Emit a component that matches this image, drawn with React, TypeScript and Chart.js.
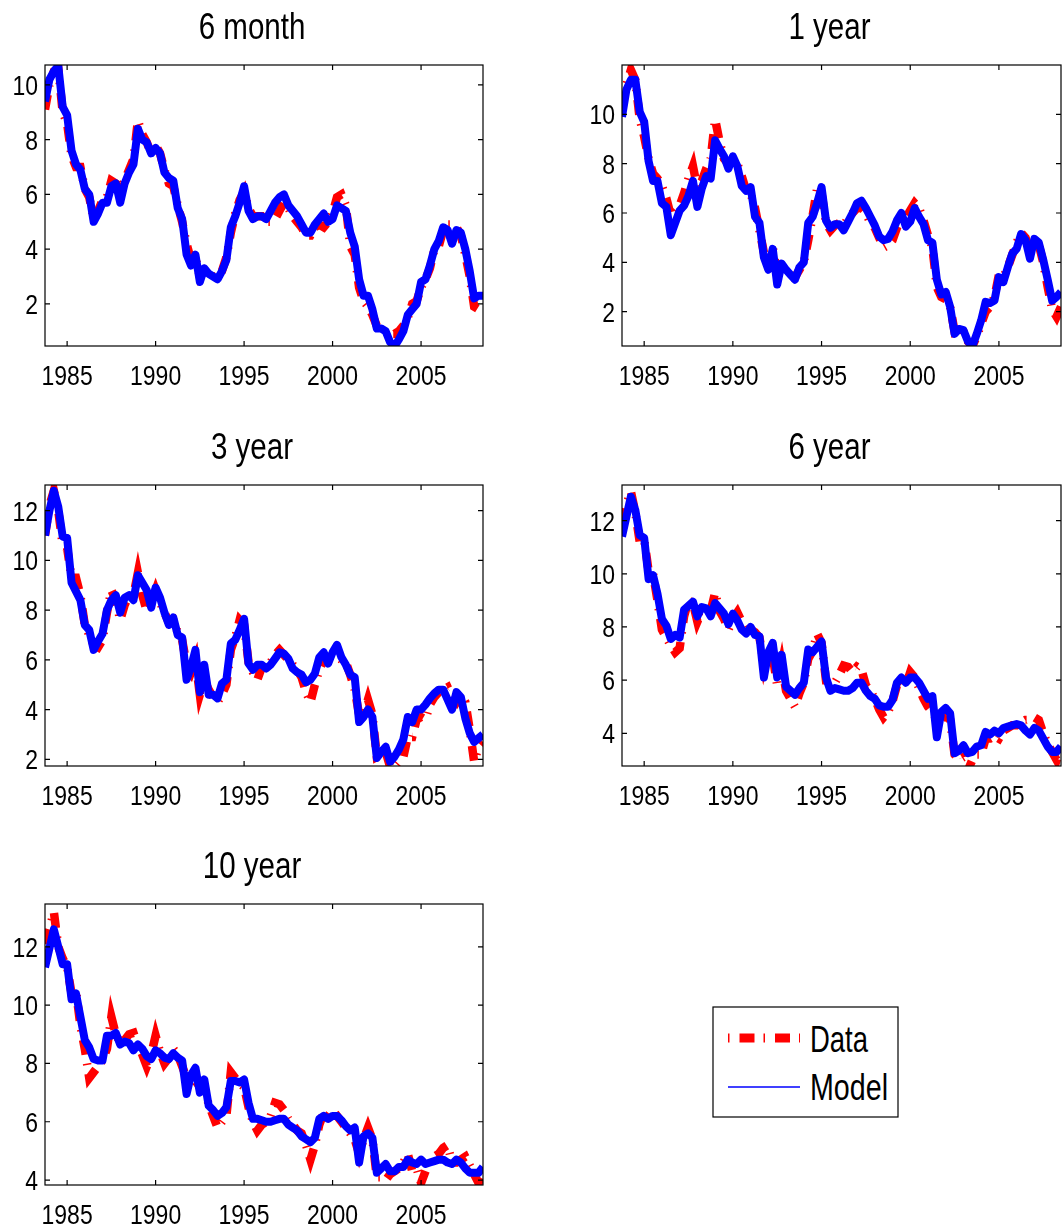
import { useEffect, useRef } from "react"
import { Chart, registerables } from "chart.js"
import type { Plugin } from "chart.js"

Chart.register(...registerables)

// no narrow face installed, so text is squeezed horizontally to look like Helvetica Narrow
const FONT = "'Liberation Sans', Arial, sans-serif"
const SQUEEZE = 0.82

// quarterly observations, 1983Q4 .. 2008Q2
const quarters: number[] = Array.from({ length: 100 }, (_, i) => 1983.75 + i * 0.25)
const yearTicks = [1985, 1990, 1995, 2000, 2005]

const model6m = [
  9.4, 10.2, 10.5, 10.7, 9.2, 8.9, 7.6, 7.1, 6.9, 6.2,
  6.0, 5.0, 5.3, 5.7, 5.7, 6.3, 6.4, 5.7, 6.4, 6.8,
  7.1, 8.4, 8.0, 7.9, 7.5, 7.7, 7.5, 6.8, 6.6, 6.5,
  5.5, 5.1, 3.8, 3.4, 3.8, 2.8, 3.3, 3.1, 3.0, 2.9,
  3.2, 3.6, 4.8, 5.2, 5.7, 6.3, 5.4, 5.1, 5.2, 5.2,
  5.1, 5.4, 5.7, 5.9, 6.0, 5.6, 5.4, 5.2, 4.9, 4.6,
  4.6, 4.9, 5.1, 5.3, 5.0, 5.1, 5.6, 5.5, 5.4, 4.6,
  4.1, 2.9, 2.3, 2.3, 1.8, 1.1, 1.1, 1.0, 0.6, 0.45,
  0.7, 1.0, 1.6, 1.8, 2.0, 2.8, 2.9, 3.4, 4.0, 4.3,
  4.8, 4.7, 4.2, 4.7, 4.6, 4.0, 3.2, 2.2, 2.3, 2.3
]
const data6m = [
  9.1, 10.0, 10.5, 10.6, 9.0, 8.6, 7.4, 7.0, 7.0, 6.2,
  5.9, 5.1, 5.4, 5.8, 5.9, 6.5, 6.4, 6.2, 6.5, 6.9,
  7.3, 8.7, 8.2, 7.9, 7.5, 7.8, 7.5, 6.9, 6.4, 6.3,
  5.6, 5.0, 4.2, 3.6, 3.7, 3.0, 3.2, 3.0, 3.0, 3.0,
  3.2, 3.7, 4.6, 5.3, 5.8, 6.1, 5.5, 5.2, 5.2, 5.2,
  5.0, 5.0, 5.1, 5.4, 5.7, 5.5, 5.2, 5.0, 4.8, 4.5,
  4.5, 4.8, 4.9, 4.8, 5.0, 5.3, 5.9, 6.0, 5.6, 4.1,
  3.8, 2.6, 2.1, 1.9, 1.6, 1.2, 1.0, 1.0, 0.9, 0.9,
  1.0, 1.2, 1.5, 2.0, 2.1, 2.6, 2.9, 3.3, 4.0, 4.1,
  4.7, 4.9, 4.9, 4.8, 4.5, 3.8, 3.0, 1.9, 1.8, 1.8
]

const model1y = [
  9.9, 11.0, 11.4, 11.4, 10.1, 9.7, 8.1, 7.3, 7.3, 6.4,
  6.25, 5.1, 5.6, 6.1, 6.3, 6.7, 7.3, 6.25, 7.0, 7.5,
  7.4, 8.95, 8.6, 8.3, 7.8, 8.3, 7.9, 7.1, 6.9, 7.05,
  5.85, 5.6, 4.2, 3.7, 4.55, 3.1, 3.95, 3.7, 3.5, 3.3,
  3.8, 4.0, 5.6, 5.85, 6.4, 7.05, 5.7, 5.4, 5.55, 5.55,
  5.3, 5.65, 6.0, 6.4, 6.5, 6.2, 5.85, 5.5, 5.05, 4.9,
  4.95, 5.25, 5.7, 6.0, 5.45, 5.65, 6.2, 5.85, 5.55, 4.9,
  4.8, 3.3, 2.7, 2.8, 2.2, 1.1, 1.3, 1.25, 0.8, 0.6,
  1.1, 1.65, 2.4, 2.35, 2.45, 3.4, 3.2, 3.8, 4.35, 4.55,
  5.15, 4.9, 4.15, 4.95, 4.8, 4.1, 3.3, 2.45, 2.6, 2.8
]
const data1y = [
  10.3, 11.2, 11.8, 11.4, 9.8, 9.1, 8.2, 7.6, 7.4, 7.1,
  6.6, 5.9, 6.1, 6.3, 6.8, 7.4, 7.9, 7.0, 7.3, 7.8,
  8.2, 9.8, 8.9, 8.2, 8.0, 8.2, 8.0, 7.5, 6.9, 6.8,
  6.2, 5.3, 4.4, 4.5, 4.6, 3.5, 3.7, 3.5, 3.4, 3.4,
  3.7, 4.0, 4.9, 5.9, 7.0, 6.8, 5.6, 5.3, 5.5, 5.6,
  5.5, 5.8, 6.0, 6.2, 6.2, 6.0, 5.6, 5.4, 5.0, 4.6,
  4.7, 4.9, 5.4, 5.9, 5.8, 6.1, 6.4, 6.2, 5.7, 5.1,
  4.6, 3.0, 2.6, 2.5, 2.2, 1.2, 1.3, 1.2, 0.8, 0.6,
  1.0, 1.5, 2.0, 2.2, 2.6, 3.5, 3.4, 3.8, 4.3, 4.8,
  5.2, 5.0, 4.5, 4.8, 4.7, 4.0, 3.0, 2.1, 1.8, 2.2
]

const model3y = [
  11.0, 12.0, 12.8, 12.15, 10.95, 10.9, 9.1, 8.75, 8.4, 7.4,
  7.2, 6.4, 6.75, 7.05, 8.0, 8.4, 8.6, 7.9, 8.5, 8.6,
  8.4, 9.4, 9.1, 8.8, 8.1, 8.9, 8.5, 7.9, 7.4, 7.7,
  7.0, 6.9, 5.2, 5.7, 6.4, 4.7, 5.8, 4.6, 4.6, 4.45,
  5.05, 5.2, 6.65, 6.8, 7.2, 7.65, 5.85, 5.6, 5.8, 5.8,
  5.65, 5.8, 6.05, 6.3, 6.25, 6.05, 5.65, 5.5, 5.4, 5.1,
  5.2, 5.45, 6.1, 6.3, 5.85, 6.3, 6.6, 6.1, 5.8, 5.4,
  5.3, 3.5, 3.7, 4.0, 3.7, 2.05, 2.3, 2.5, 1.9, 2.1,
  2.4, 2.8, 3.7, 3.5, 4.0, 4.0, 4.2, 4.45, 4.65, 4.8,
  4.8, 4.4, 4.0, 4.7, 4.5, 3.65, 3.05, 2.7, 2.85, 3.0
]
const data3y = [
  11.0, 12.2, 12.8, 12.0, 10.6, 10.5, 9.3, 9.3, 8.6, 7.4,
  7.0, 6.6, 6.5, 6.8, 7.9, 8.8, 8.4, 7.6, 8.2, 8.6,
  8.6, 9.5, 8.6, 7.95, 8.3, 8.8, 8.3, 7.9, 7.5, 7.6,
  7.1, 6.8, 5.8, 5.5, 6.0, 4.6, 5.2, 4.8, 4.5, 4.3,
  4.6, 5.0, 6.4, 6.9, 7.6, 7.4, 5.9, 5.5, 5.2, 5.7,
  5.9, 5.9, 6.2, 6.4, 6.2, 6.0, 5.8, 5.6, 5.3, 4.7,
  4.3, 5.0, 5.6, 6.0, 6.0, 6.0, 6.1, 6.0, 5.9, 5.4,
  4.8, 3.8, 3.8, 4.4, 3.8, 2.1, 2.2, 2.3, 1.7, 1.7,
  1.9, 2.1, 2.9, 2.9, 3.6, 3.7, 3.6, 4.2, 4.5, 4.7,
  4.8, 4.9, 4.5, 4.3, 4.6, 4.3, 3.2, 1.9, 2.5, 2.7
]

const model6y = [
  11.4, 12.15, 12.9, 12.4, 11.45, 11.35, 9.8, 9.95, 9.25, 8.3,
  8.05, 7.55, 7.7, 7.6, 8.65, 8.8, 8.95, 8.4, 8.75, 8.7,
  8.4, 8.9, 8.7, 8.5, 8.1, 8.5, 8.25, 7.9, 7.75, 8.0,
  7.7, 7.65, 6.1, 7.05, 7.4, 6.1, 6.95, 5.75, 5.6, 5.45,
  5.7, 5.9, 7.15, 7.05, 7.25, 7.45, 6.1, 5.6, 5.7, 5.65,
  5.6, 5.6, 5.7, 5.9, 5.9, 5.6, 5.4, 5.3, 5.05, 5.0,
  5.0, 5.25, 5.9, 6.1, 5.9, 6.1, 6.1, 5.9, 5.6, 5.3,
  5.4, 3.85, 4.8, 4.95, 4.75, 3.25, 3.35, 3.55, 3.25, 3.3,
  3.5, 3.55, 4.05, 3.95, 4.1, 4.0, 4.2, 4.25, 4.3, 4.35,
  4.3, 4.1, 3.95, 4.2, 4.1, 3.8, 3.5, 3.3, 3.3, 3.5
]
const data6y = [
  11.9, 12.6, 13.1, 12.3, 11.2, 11.3, 10.1, 10.0, 9.0, 7.9,
  7.6, 7.3, 7.05, 7.2, 8.4, 9.0, 8.9, 8.2, 8.6, 8.6,
  8.6, 9.3, 8.6, 8.3, 7.9, 8.3, 8.55, 8.2, 7.9, 7.9,
  7.8, 7.6, 6.6, 7.3, 6.9, 5.8, 6.6, 5.6, 5.3, 5.0,
  5.5, 5.9, 6.8, 7.1, 7.75, 7.4, 6.0, 6.0, 5.9, 6.2,
  6.55, 6.5, 6.3, 6.5, 6.4, 5.8, 5.6, 5.3, 4.9, 4.6,
  4.8, 5.2, 5.8, 6.0, 5.8, 6.3, 6.1, 5.7, 5.3, 5.0,
  4.8, 4.5, 4.5, 4.7, 4.5, 3.2, 3.0, 3.1, 2.6, 3.0,
  3.2, 3.2, 3.8, 3.8, 3.9, 3.8, 4.1, 4.2, 4.3, 4.3,
  4.4, 4.5, 4.5, 4.6, 4.5, 4.0, 3.6, 3.3, 3.0, 3.6
]

const model10y = [
  11.3, 11.95, 12.6, 12.0, 11.4, 11.4, 10.2, 10.4, 9.6, 8.8,
  8.55, 8.15, 8.1, 8.1, 8.95, 8.95, 9.05, 8.65, 8.75, 8.7,
  8.45, 8.65, 8.5, 8.25, 8.15, 8.45, 8.35, 8.2, 8.15, 8.35,
  8.2, 8.1, 6.95, 7.6, 7.85, 7.0, 7.45, 6.55, 6.4, 6.2,
  6.3, 6.5, 7.4, 7.4, 7.35, 7.45, 6.65, 6.1, 6.1, 6.05,
  6.0, 6.0, 6.05, 6.1, 6.1, 5.9, 5.8, 5.7, 5.5, 5.4,
  5.3, 5.45, 6.1, 6.2, 6.1, 6.2, 6.2, 6.05, 5.85, 5.7,
  5.8, 4.6, 5.5, 5.6, 5.45, 4.25, 4.4, 4.55, 4.3, 4.3,
  4.45, 4.45, 4.7, 4.6, 4.55, 4.7, 4.55, 4.6, 4.65, 4.7,
  4.7, 4.6, 4.55, 4.7, 4.6, 4.4, 4.25, 4.25, 4.25, 4.45
]
const data10y = [
  12.1, 12.6, 13.2, 12.0, 11.6, 11.3, 10.4, 10.5, 9.3, 8.5,
  7.5, 7.7, 7.9, 8.1, 8.5, 9.6, 9.0, 8.7, 8.8, 9.0,
  9.05, 8.6, 8.3, 7.9, 8.3, 8.95, 8.4, 8.0, 8.2, 8.5,
  8.3, 7.9, 7.5, 7.6, 7.4, 7.2, 7.1, 6.6, 6.2, 5.8,
  6.0, 6.2, 7.7, 7.5, 7.3, 7.2, 6.5, 6.0, 5.7, 5.9,
  6.0, 6.2, 6.65, 6.6, 6.4, 6.1, 5.9, 5.7, 5.6, 5.2,
  4.7, 5.2, 5.9, 6.3, 6.2, 6.4, 6.2, 6.0, 5.8, 5.6,
  5.4, 4.9, 5.4, 5.8, 5.4, 4.1, 4.1, 4.0, 4.2, 4.3,
  4.4, 4.6, 4.9, 4.3, 4.4, 3.9, 4.3, 4.7, 4.8, 4.9,
  5.1, 5.2, 4.6, 4.6, 4.7, 4.8, 4.5, 4.2, 3.9, 4.3
]

type PanelSpec = {
  title: string
  model: number[]
  data: number[]
  yRange: [number, number]
  yTicks: number[]
  left: number
  top: number
  width: number
}

const PLOT_H = 281
const AXIS_W = 45
const TITLE_H = 60
const XAXIS_H = 50

const panels: PanelSpec[] = [
  { title: "6 month", model: model6m, data: data6m, yRange: [0.46, 10.73], yTicks: [2, 4, 6, 8, 10], left: 45, top: 65, width: 438 },
  { title: "1 year", model: model1y, data: data1y, yRange: [0.61, 12.0], yTicks: [2, 4, 6, 8, 10], left: 622, top: 65, width: 439 },
  { title: "3 year", model: model3y, data: data3y, yRange: [1.73, 13.03], yTicks: [2, 4, 6, 8, 10, 12], left: 45, top: 485, width: 438 },
  { title: "6 year", model: model6y, data: data6y, yRange: [2.77, 13.34], yTicks: [4, 6, 8, 10, 12], left: 622, top: 485, width: 439 },
  { title: "10 year", model: model10y, data: data10y, yRange: [3.83, 13.47], yTicks: [4, 6, 8, 10, 12], left: 45, top: 904, width: 438 }
]

function narrowText(ctx: CanvasRenderingContext2D, text: string, x: number, y: number, align: CanvasTextAlign) {
  ctx.save()
  ctx.translate(x, y)
  ctx.scale(SQUEEZE, 1)
  ctx.textAlign = align
  ctx.textBaseline = "alphabetic"
  ctx.fillText(text, 0, 0)
  ctx.restore()
}

// matlab style axes: box, inward ticks on all four sides, tick labels and title
const frame: Plugin<"line"> = {
  id: "frame",
  afterDatasetsDraw(chart, _args, opts: any) {
    const { ctx, chartArea: a, scales } = chart
    const tl = 5
    ctx.save()
    ctx.strokeStyle = "#000"
    ctx.lineWidth = 1.2
    ctx.strokeRect(a.left, a.top, a.right - a.left, a.bottom - a.top)
    ctx.beginPath()
    scales.x.ticks.forEach((t) => {
      const x = scales.x.getPixelForValue(t.value)
      ctx.moveTo(x, a.bottom)
      ctx.lineTo(x, a.bottom - tl)
      ctx.moveTo(x, a.top)
      ctx.lineTo(x, a.top + tl)
    })
    scales.y.ticks.forEach((t) => {
      const y = scales.y.getPixelForValue(t.value)
      ctx.moveTo(a.left, y)
      ctx.lineTo(a.left + tl, y)
      ctx.moveTo(a.right, y)
      ctx.lineTo(a.right - tl, y)
    })
    ctx.stroke()

    ctx.fillStyle = "#000"
    ctx.font = `28px ${FONT}`
    scales.x.ticks.forEach((t) => {
      narrowText(ctx, String(t.value), scales.x.getPixelForValue(t.value), a.bottom + 39, "center")
    })
    scales.y.ticks.forEach((t) => {
      narrowText(ctx, String(t.value), a.left - 7, scales.y.getPixelForValue(t.value) + 10, "right")
    })
    ctx.font = `36px ${FONT}`
    narrowText(ctx, opts.text, (a.left + a.right) / 2 - 12, a.top - 26, "center")
    ctx.restore()
  }
}

function RatePanel({ p }: { p: PanelSpec }) {
  const canvasRef = useRef<HTMLCanvasElement>(null)
  const w = AXIS_W + p.width + 2
  const h = TITLE_H + PLOT_H + XAXIS_H

  useEffect(() => {
    if (!canvasRef.current) return
    const chart = new Chart(canvasRef.current, {
      type: "line",
      data: {
        datasets: [
          {
            label: "Model",
            data: quarters.map((t, i) => ({ x: t, y: p.model[i] })),
            borderColor: "#0000ff",
            borderWidth: 8,
            borderJoinStyle: "round",
            pointRadius: 0,
            tension: 0,
            clip: 0
          },
          {
            label: "Data",
            data: quarters.map((t, i) => ({ x: t, y: p.data[i] })),
            borderColor: "#ff0000",
            borderWidth: 8.5,
            borderDash: [15, 9, 1.5, 9],
            pointRadius: 0,
            tension: 0,
            clip: 0
          }
        ]
      },
      options: {
        responsive: false,
        animation: false,
        devicePixelRatio: 1,
        layout: { padding: { top: TITLE_H, right: 2, left: 0, bottom: 0 } },
        plugins: {
          legend: { display: false },
          tooltip: { enabled: false },
          frame: { text: p.title }
        } as any,
        scales: {
          x: {
            type: "linear",
            min: 1983.75,
            max: 2008.5,
            grid: { display: false, drawTicks: false },
            border: { display: false },
            ticks: { display: false },
            afterBuildTicks: (s) => {
              s.ticks = yearTicks.map((v) => ({ value: v }))
            },
            afterFit: (s) => {
              s.height = XAXIS_H
              s.paddingLeft = 0
              s.paddingRight = 0
            }
          },
          y: {
            type: "linear",
            min: p.yRange[0],
            max: p.yRange[1],
            grid: { display: false, drawTicks: false },
            border: { display: false },
            ticks: { display: false },
            afterBuildTicks: (s) => {
              s.ticks = p.yTicks.map((v) => ({ value: v }))
            },
            afterFit: (s) => {
              s.width = AXIS_W
              s.paddingTop = 0
              s.paddingBottom = 0
            }
          }
        }
      },
      plugins: [frame]
    })
    return () => chart.destroy()
  }, [p])

  return (
    <canvas
      ref={canvasRef}
      width={w}
      height={h}
      style={{ position: "absolute", left: p.left - AXIS_W, top: p.top - TITLE_H, width: w, height: h }}
    />
  )
}

function Legend() {
  return (
    <svg width={187} height={112} style={{ position: "absolute", left: 712, top: 1006 }}>
      <rect x={1} y={1} width={185} height={110} fill="#fff" stroke="#000" strokeWidth={1.2} />
      <line x1={16} x2={88} y1={32} y2={32} stroke="#ff0000" strokeWidth={9} strokeDasharray="1.5 10 15 9" />
      <text x={98} y={46} fontFamily={FONT} fontSize={36} fill="#000" textLength={58} lengthAdjust="spacingAndGlyphs">
        Data
      </text>
      <line x1={16} x2={88} y1={81} y2={81} stroke="#0000ff" strokeWidth={1.3} />
      <text x={98} y={94} fontFamily={FONT} fontSize={36} fill="#000" textLength={78} lengthAdjust="spacingAndGlyphs">
        Model
      </text>
    </svg>
  )
}

export default function App() {
  return (
    <div style={{ position: "absolute", left: 0, top: 0, width: 1062, height: 1232, overflow: "hidden", background: "#fff" }}>
      {panels.map((p) => (
        <RatePanel key={p.title} p={p} />
      ))}
      <Legend />
    </div>
  )
}
